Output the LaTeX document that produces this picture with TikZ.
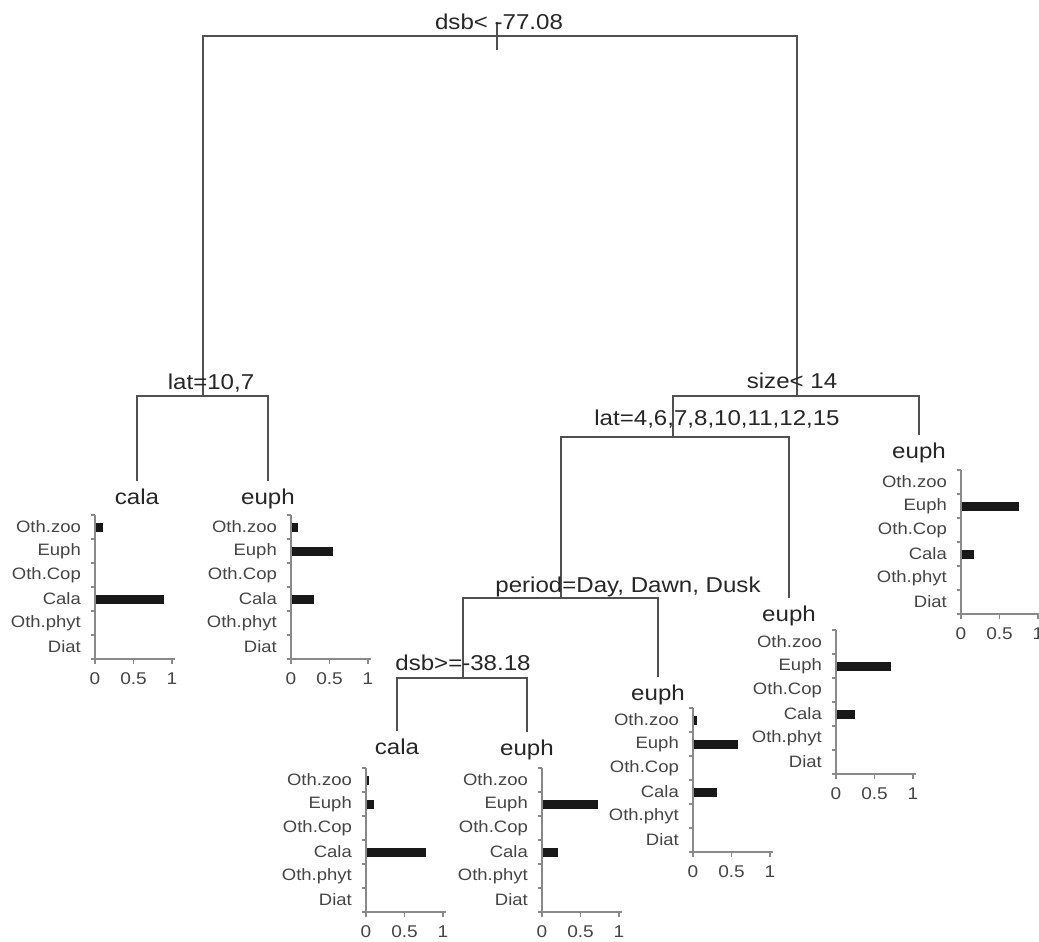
\documentclass[tikz,border=0pt]{standalone}
\usepackage{fontspec}
\setmainfont[FakeStretch=1.12]{Liberation Sans}
\definecolor{branchgray}{HTML}{505050}
\definecolor{axisgray}{HTML}{8A8A8A}
\definecolor{labelgray}{HTML}{444444}
\tikzset{
  branch/.style={draw=branchgray, line width=1.7pt},
  split/.style={anchor=base, inner sep=0pt, text=black!85, font=\fontsize{21.5}{24}\selectfont},
  leaf/.style={anchor=north, text height=15pt, text depth=4pt, inner xsep=1pt, inner ysep=8pt, text=black!85, font=\fontsize{21.5}{24}\selectfont},
  axisline/.style={draw=axisgray, line width=1.6pt},
  catlab/.style={anchor=east, inner sep=0pt, text=labelgray, font=\fontsize{16.5}{18}\selectfont},
  ticklab/.style={inner sep=0pt, text=labelgray, font=\fontsize{17}{19}\selectfont},
  barfill/.style={fill=black!90}
}
% class frequencies drawn under a leaf: x of axis, top, six values
\newcommand{\leafchart}[3]{%
  \begin{scope}[shift={(#1,#2)}]
    \foreach \v [count=\i from 0] in {#3}
      \fill[barfill] (0,\i*24+7.5) rectangle (\v*77,\i*24+16.5);
    \draw[axisline] (0,0) -- (0,144) -- (80,144);
    \foreach \k in {0,...,6}
      \draw[axisline] (-4,\k*24) -- (0,\k*24);
    \foreach \t [count=\i from 0] in {0,0.5,1} {
      \draw[axisline] (\i*38.5,144) -- (\i*38.5,149);
      \node[ticklab] at (\i*38.5,164) {\t};
    }
    \foreach \c [count=\i from 0] in {Oth.zoo,Euph,Oth.Cop,Cala,Oth.phyt,Diat}
      \node[catlab] at (-14,\i*24+12) {\c};
  \end{scope}}
\begin{document}
\begin{tikzpicture}[x=1pt,y=-1pt]
\useasboundingbox (0,0) rectangle (1039,942);

\coordinate (root) at (497,36);
\coordinate (lat1) at (203,396);
\coordinate (size) at (797,396);
\coordinate (lat2) at (673,437);
\coordinate (period) at (561,598);
\coordinate (dsb2) at (463,678);

\node[leaf] (cala1) at (137,481) {cala};
\node[leaf] (euph1) at (268,481) {euph};
\node[leaf] (euph4) at (919,435) {euph};
\node[leaf] (euph3) at (789,598) {euph};
\node[leaf] (euph2) at (658,677) {euph};
\node[leaf] (cala2) at (397,731) {cala};
\node[leaf] (euph5) at (527,732) {euph};

\draw[branch] ([yshift=14pt]root) -- ([yshift=-14pt]root);
\draw[branch] (root) -| (lat1);
\draw[branch] (root) -| (size);
\draw[branch] (lat1) -| (cala1.north);
\draw[branch] (lat1) -| (euph1.north);
\draw[branch] (size) -| (lat2);
\draw[branch] (size) -| (euph4.north);
\draw[branch] (lat2) -| (period);
\draw[branch] (lat2) -| (euph3.north);
\draw[branch] (period) -| (dsb2);
\draw[branch] (period) -| (euph2.north);
\draw[branch] (dsb2) -| (cala2.north);
\draw[branch] (dsb2) -| (euph5.north);

\node[split] (rootlab) at (499,30) {dsb< -77.08};
\node[split] (lat1lab) at (211,389) {lat=10,7};
\node[split] (sizelab) at (792,388) {size< 14};
\node[split] (lat2lab) at (717,425) {lat=4,6,7,8,10,11,12,15};
\node[split] (periodlab) at (628,592) {period=Day, Dawn, Dusk};
\node[split] (dsb2lab) at (463,670) {dsb>=-38.18};

\leafchart{95}{515}{0.1,0,0,0.89,0,0}
\leafchart{291}{515}{0.09,0.55,0,0.3,0,0}
\leafchart{366}{768}{0.04,0.1,0,0.78,0,0}
\leafchart{542}{768}{0,0.73,0,0.21,0,0}
\leafchart{693}{708}{0.05,0.58,0,0.31,0,0}
\leafchart{836}{630}{0,0.71,0,0.25,0,0}
\leafchart{961}{470}{0,0.75,0,0.17,0,0}
\end{tikzpicture}
\end{document}
